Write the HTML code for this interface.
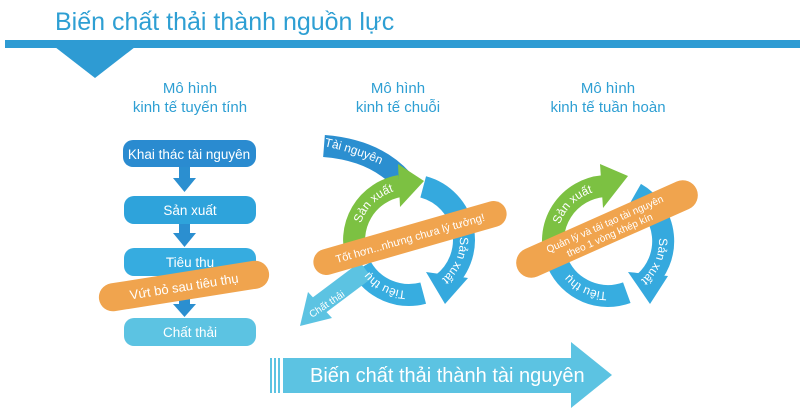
<!DOCTYPE html>
<html><head><meta charset="utf-8"><style>
body{margin:0;background:#fff;}
svg{display:block;font-family:"Liberation Sans",sans-serif;}
</style></head><body>
<svg width="800" height="417" viewBox="0 0 800 417" xmlns="http://www.w3.org/2000/svg">
<defs>
<path id="tn" d="M324,146 Q370,156 402,176"/>
<path id="sx1" d="M358.8,231.1 A51,51 0 0 1 422.2,190.7"/>
<path id="sx2" d="M459.2,231.1 A51,51 0 0 1 426.4,287.9"/>
<path id="tt1" d="M417.9,290.2 A51,51 0 0 1 359.7,253.2"/>
<path id="ct" d="M312,318 L348,294"/>
<path id="sx3" d="M557.8,232.1 A51,51 0 0 1 616.9,190.8"/>
<path id="sx4" d="M658.2,232.1 A51,51 0 0 1 629.6,287.2"/>
<path id="tt2" d="M616.9,291.2 A51,51 0 0 1 560.1,258.4"/>
</defs>
<text x="55" y="30" font-size="25" fill="#2e9fd3">Biến chất thải thành nguồn lực</text>
<rect x="5" y="40" width="795" height="8" fill="#2e9bd3"/>
<polygon points="55,47 135,47 95,78" fill="#2e9bd3"/>
<g font-size="15" fill="#2e9fd3" text-anchor="middle">
<text x="190" y="93">Mô hình</text><text x="190" y="112">kinh tế tuyến tính</text>
<text x="398" y="93">Mô hình</text><text x="398" y="112">kinh tế chuỗi</text>
<text x="608" y="93">Mô hình</text><text x="608" y="112">kinh tế tuần hoàn</text>
</g>
<!-- linear -->
<g fill="#2b8fd0">
<rect x="179" y="166" width="11" height="14"/><polygon points="173,178 196,178 184.5,192"/>
<rect x="179" y="223" width="11" height="12"/><polygon points="173,233 196,233 184.5,247"/>
<rect x="179" y="296" width="11" height="10"/><polygon points="173,304 196,304 184.5,317"/>
</g>
<rect x="123" y="140" width="133" height="27" rx="10" fill="#2a8bd0"/>
<rect x="124" y="196" width="132" height="28" rx="10" fill="#2ea3db"/>
<rect x="124" y="248" width="132" height="28" rx="10" fill="#36ace0"/>
<rect x="124" y="318" width="132" height="28" rx="10" fill="#5cc3e2"/>
<g font-size="13.5" fill="#fff" text-anchor="middle">
<text x="189" y="159">Khai thác tài nguyên</text>
<text x="190" y="215">Sản xuất</text>
<text x="190" y="267">Tiêu thụ</text>
<text x="190" y="337">Chất thải</text>
</g>
<g transform="translate(184,286) rotate(-9)">
<rect x="-86" y="-14" width="172" height="28" rx="14" fill="#f0a44e"/>
<text x="0" y="5" font-size="13" fill="#fff" text-anchor="middle">Vứt bỏ sau tiêu thụ</text>
</g>
<!-- chain model -->
<path d="M324,146 Q375,150 402,180" stroke="#2b8fd0" stroke-width="22" fill="none"/>
<path d="M423.2,186.9 A55,55 0 0 1 442,284" stroke="#35a9de" stroke-width="22" fill="none"/>
<polygon points="426,272 468,278 445,304" fill="#35a9de"/>
<path d="M423.2,293.1 A55,55 0 0 1 361.4,267.5" stroke="#37ade0" stroke-width="22" fill="none"/>
<path d="M366,270 L318,306" stroke="#5cc3e2" stroke-width="20" fill="none"/>
<polygon points="300,326 308,292 332,318" fill="#5cc3e2"/>
<path d="M357.3,258.8 A55,55 0 0 1 400,186" stroke="#7cc142" stroke-width="22" fill="none"/>
<polygon points="398,164 424,181 400,207" fill="#7cc142"/>
<g font-size="12" fill="#fff">
<text><textPath href="#tn">Tài nguyên</textPath></text>
<text><textPath href="#sx1" startOffset="8">Sản xuất</textPath></text>
<text><textPath href="#sx2" startOffset="6">Sản xuất</textPath></text>
<text><textPath href="#tt1" startOffset="12">Tiêu thụ</textPath></text>
<text font-size="10"><textPath href="#ct">Chất thải</textPath></text>
</g>
<g transform="translate(410,238) rotate(-16)">
<rect x="-100" y="-13" width="200" height="26" rx="13" fill="#f0a44e"/>
<text x="0" y="4" font-size="11" fill="#fff" text-anchor="middle">Tốt hơn...nhưng chưa lý tưởng!</text>
</g>
<!-- circular -->
<path d="M635.5,193.4 A55,55 0 0 1 645,282" stroke="#35a9de" stroke-width="22" fill="none"/>
<polygon points="628,272 668,276 650,304" fill="#35a9de"/>
<path d="M626.8,292.7 A55,55 0 0 1 558.2,264.2" stroke="#37ade0" stroke-width="22" fill="none"/>
<path d="M556.3,259.8 A55,55 0 0 1 603.2,186.2" stroke="#7cc142" stroke-width="22" fill="none"/>
<polygon points="600,164 628,176 603,208" fill="#7cc142"/>
<g font-size="12" fill="#fff">
<text><textPath href="#sx3" startOffset="8">Sản xuất</textPath></text>
<text><textPath href="#sx4" startOffset="6">Sản xuất</textPath></text>
<text><textPath href="#tt2" startOffset="10">Tiêu thụ</textPath></text>
</g>
<g transform="translate(607,229) rotate(-24)">
<rect x="-98" y="-15" width="196" height="30" rx="15" fill="#f0a44e"/>
<text x="0" y="-2" font-size="10" fill="#fff" text-anchor="middle">Quản lý và tái tạo tài nguyên</text>
<text x="0" y="10" font-size="10" fill="#fff" text-anchor="middle">theo 1 vòng khép kín</text>
</g>
<!-- bottom arrow -->
<g fill="#5cc3e2">
<rect x="270" y="358" width="2" height="35"/><rect x="274" y="358" width="2" height="35"/><rect x="278" y="358" width="2" height="35"/>
<rect x="283" y="358" width="290" height="35"/>
<polygon points="571,342 612,375 571,408"/>
</g>
<text x="310" y="382" font-size="20" fill="#fff">Biến chất thải thành tài nguyên</text>
</svg>
</body></html>
